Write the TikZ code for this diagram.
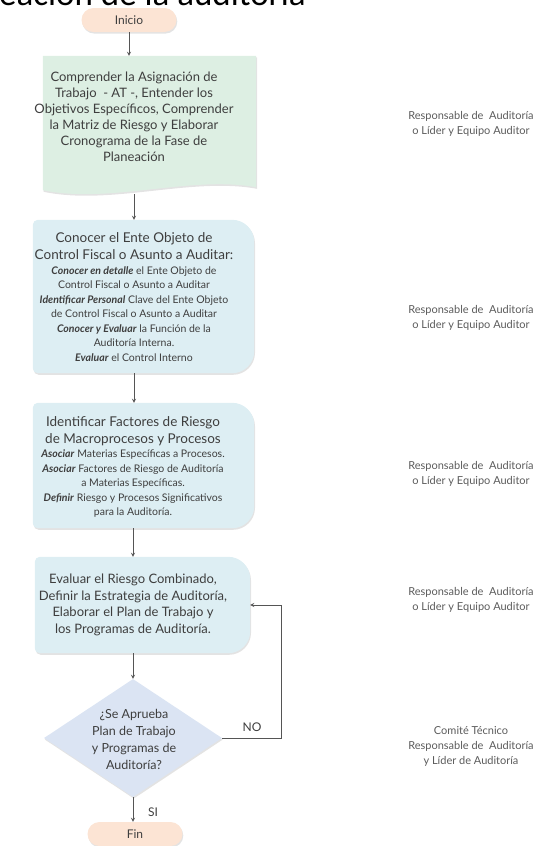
\documentclass[tikz,border=0pt]{standalone}
\usepackage{fontspec}
\setmainfont{Lato}
\newfontfamily\titulofont{Carlito}
\usepackage{tikz}
\usetikzlibrary{arrows,shapes.geometric,shadows}

\definecolor{gristexto}{RGB}{62,62,62}
\definecolor{grisflecha}{RGB}{85,85,85}
\definecolor{durazno}{RGB}{252,228,212}
\definecolor{verdeplan}{RGB}{221,239,227}
\definecolor{celeste}{RGB}{221,238,243}
\definecolor{lavanda}{RGB}{219,228,243}

\begin{document}
\begin{tikzpicture}[x=1pt,y=-1pt]
    \tikzstyle{sombra}=[drop shadow={opacity=0.22,shadow xshift=0.8pt,shadow yshift=-1.6pt}]
    \tikzstyle{terminal}=[rectangle, rounded corners=12pt, minimum width=95pt, minimum height=24pt, fill=durazno, sombra, text=gristexto, font=\fontsize{12}{14}\selectfont]
    \tikzstyle{marco}=[rectangle, inner sep=0pt]
    \tikzstyle{rombo}=[diamond, inner sep=0pt, fill=lavanda, sombra]
    \tikzstyle{texto}=[align=center, text=gristexto, font=\fontsize{13}{16}\selectfont]
    \tikzstyle{chico}=[align=center, text=gristexto, font=\fontsize{10.5}{14.5}\selectfont]
    \tikzstyle{responsable}=[align=center, text=gristexto!85, font=\fontsize{11}{15}\selectfont]
    \tikzstyle{flecha}=[->, >=stealth, thick, grisflecha]

    \useasboundingbox (0,0) rectangle (543,846);
    \clip (0,0) rectangle (543,846);

    % titulo (cortado arriba)
    \node[anchor=base east, text=black, inner sep=0pt, font=\titulofont\fontsize{35}{40}\selectfont] (titulo) at (306,5) {Planeación de la auditoría};

    % inicio y fin
    \node[terminal] (inicio) at (129,20) {Inicio};
    \node[terminal] (fin) at (135,834) {Fin};

    % marcos de las actividades
    \node[marco, minimum width=213pt, minimum height=134pt] (plan) at (149.5,123) {};
    \fill[verdeplan, sombra] (plan.north west) -- (plan.north east) -- ([yshift=3pt]plan.south east)
        .. controls +(-66,-12) and +(67,14) .. (plan.south west) -- cycle;

    \node[marco, minimum width=221pt, minimum height=153pt] (conocer) at (143.5,296.5) {};
    \fill[celeste, sombra] (conocer.north) [rounded corners=22pt] -- (conocer.north east) -- (conocer.south east)
        -- (conocer.south) [rounded corners=5pt] -- (conocer.south west) -- (conocer.north west) -- cycle;

    \node[marco, minimum width=221pt, minimum height=125pt] (factores) at (143.5,465.5) {};
    \fill[celeste, sombra] (factores.north) [rounded corners=22pt] -- (factores.north east) -- (factores.south east)
        -- (factores.south) [rounded corners=5pt] -- (factores.south west) -- (factores.north west) -- cycle;

    \node[marco, minimum width=215pt, minimum height=96pt] (evaluar) at (142.5,605) {};
    \fill[celeste, sombra] (evaluar.north) [rounded corners=22pt] -- (evaluar.north east) -- (evaluar.south east)
        -- (evaluar.south) [rounded corners=5pt] -- (evaluar.south west) -- (evaluar.north west) -- cycle;

    \node[rombo, minimum width=178pt, minimum height=118pt] (decision) at (133,738) {};

    % textos de las actividades
    \node[texto] (tplan) at (134,117) {Comprender la Asignación de\\Trabajo\ \ - AT -, Entender los\\Objetivos Específicos, Comprender\\la Matriz de Riesgo y Elaborar\\Cronograma de la Fase de\\Planeación};
    \node[texto, font=\fontsize{13.5}{17}\selectfont] (tconocer1) at (134,246.5) {Conocer el Ente Objeto de\\Control Fiscal o Asunto a Auditar:};
    \node[chico] (tconocer2) at (134,314) {\textbf{\textit{Conocer en detalle}} el Ente Objeto de\\Control Fiscal o Asunto a Auditar\\\textbf{\textit{Identificar Personal}} Clave del Ente Objeto\\de Control Fiscal o Asunto a Auditar\\\textbf{\textit{Conocer y Evaluar}} la Función de la\\Auditoría Interna.\\\textbf{\textit{Evaluar}} el Control Interno};
    \node[texto, font=\fontsize{13.5}{17}\selectfont] (tfactores1) at (133,431.5) {Identificar Factores de Riesgo\\de Macroprocesos y Procesos};
    \node[chico] (tfactores2) at (133,484) {\textbf{\textit{Asociar}} Materias Específicas a Procesos.\\\textbf{\textit{Asociar}} Factores de Riesgo de Auditoría\\a Materias Específicas.\\\textbf{\textit{Definir}} Riesgo y Procesos Significativos\\para la Auditoría.};
    \node[texto, font=\fontsize{13}{16.5}\selectfont] (tevaluar) at (133,605) {Evaluar el Riesgo Combinado,\\Definir la Estrategia de Auditoría,\\Elaborar el Plan de Trabajo y\\los Programas de Auditoría.};
    \node[texto, font=\fontsize{12.5}{17}\selectfont] (tdecision) at (134,739) {¿Se Aprueba\\Plan de Trabajo\\y Programas de\\Auditoría?};

    % responsables
    \node[responsable] (r1) at (471,124) {Responsable de\ \ Auditoría\\o Líder y Equipo Auditor};
    \node[responsable] (r2) at (471,318) {Responsable de\ \ Auditoría\\o Líder y Equipo Auditor};
    \node[responsable] (r3) at (471,474) {Responsable de\ \ Auditoría\\o Líder y Equipo Auditor};
    \node[responsable] (r4) at (471,600) {Responsable de\ \ Auditoría\\o Líder y Equipo Auditor};
    \node[responsable] (r5) at (471,746) {Comité Técnico\\Responsable de\ \ Auditoría\\y Líder de Auditoría};

    % flechas
    \draw[flecha] (inicio.south) -- (inicio.south |- plan.north);
    \draw[flecha] ([yshift=-4pt]tplan |- plan.south) -- (tplan |- conocer.north);
    \draw[flecha] (conocer.south -| tconocer1) -- (tconocer1 |- factores.north);
    \draw[flecha] (factores.south -| tfactores1) -- (tfactores1 |- evaluar.north);
    \draw[flecha] (evaluar.south -| decision) -- (decision.north);
    \draw[flecha] (decision.south) -- (decision.south |- fin.north);
    \draw[flecha] (decision.east) -| ([xshift=31pt]evaluar.east) -- (evaluar.east);
    \node[texto, font=\fontsize{12}{14}\selectfont] (no) at (252,727) {NO};
    \node[texto, font=\fontsize{12}{14}\selectfont] (si) at (153,812) {SI};

\end{tikzpicture}
\end{document}
